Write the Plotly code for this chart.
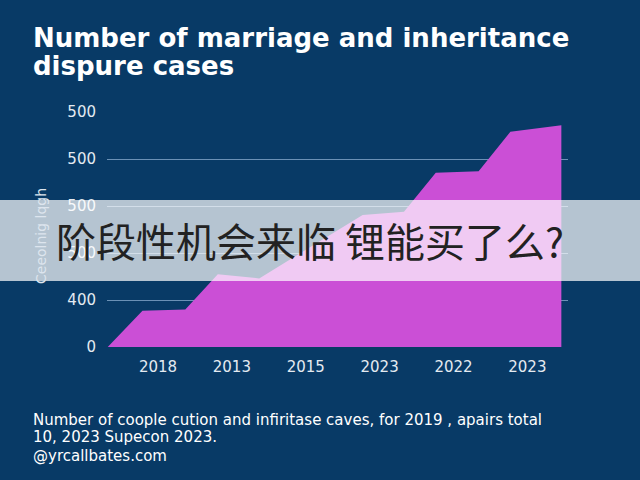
import plotly.graph_objects as go

# ---- data ----
x_pos = [-0.68, -0.21, 0.37, 0.81, 1.37, 2.77, 3.33, 3.76, 4.34, 4.77, 5.46]
cases = [0, 77, 80, 155, 146, 281, 288, 371, 374, 458, 472]
x_tickvals = [0, 1, 2, 3, 4, 5]
x_ticktext = ["2018", "2013", "2015", "2023", "2022", "2023"]
y_tickvals = [0, 100, 200, 300, 400, 500]
y_ticktext = ["0", "400", "500", "500", "500", "500"]

title_lines = ["Number of marriage and inheritance", "dispure cases"]
y_title = "Ceeolnig lqgh"
overlay_text = "阶段性机会来临 锂能买了么?"
caption_lines = ["Number of coople cution and infiritase caves, for 2019 , apairs total",
                 "10, 2023 Supecon 2023.",
                 "@yrcallbates.com"]

W, H = 640, 480
L, R, T, B = 107, 72, 112, 133
PW, PH = W - L - R, H - T - B

def px(x):
    return (x - L) / PW

def py(y):
    return (H - B - y) / PH

BG = "#083a66"
fig = go.Figure()
fig.add_trace(go.Scatter(
    x=x_pos + [x_pos[-1]], y=cases + [0],
    mode="lines", fill="tozeroy", fillcolor="#cb4fd6",
    line=dict(width=0, color="#cb4fd6"), hoverinfo="skip", showlegend=False,
))

fig.update_layout(
    width=W, height=H, paper_bgcolor=BG, plot_bgcolor=BG,
    margin=dict(l=L, r=R, t=T, b=B),
    xaxis=dict(range=[-0.69, 5.55], tickvals=x_tickvals, ticktext=x_ticktext,
               showgrid=False, zeroline=False, showline=False, ticks="",
               ticklabelstandoff=9,
               tickfont=dict(family="DejaVu Sans", size=15, color="#e4eaf1")),
    yaxis=dict(range=[0, 500], tickvals=y_tickvals, ticktext=y_ticktext,
               showgrid=True, gridcolor="rgba(140,175,210,0.75)", gridwidth=1,
               zeroline=False, showline=False, ticks="", ticklabelstandoff=10,
               tickfont=dict(family="DejaVu Sans", size=15, color="#e4eaf1")),
    font=dict(family="DejaVu Sans", color="white"),
)

ann = []
for line, yc in zip(title_lines, [38, 66]):
    ann.append(dict(text="<b>" + line + "</b>", x=px(31), y=py(yc), xanchor="left",
                    yanchor="middle", font=dict(family="DejaVu Sans", size=26, color="white")))
for line, yc in zip(caption_lines, [420, 437, 456]):
    ann.append(dict(text=line, x=px(31), y=py(yc), xanchor="left", yanchor="middle",
                    font=dict(family="DejaVu Sans", size=15, color="white")))
ann.append(dict(text=y_title, x=px(41), y=py(236), textangle=-90, xanchor="center",
                yanchor="middle", font=dict(family="DejaVu Sans", size=14, color="#dde5ee")))
ann.append(dict(text=overlay_text, x=px(54), y=py(240), xanchor="left", yanchor="middle",
                font=dict(family="Noto Sans CJK SC", size=40, color="#222222")))
for a in ann:
    a.update(xref="paper", yref="paper", showarrow=False)
    fig.add_annotation(**a)

fig.add_shape(type="rect", xref="paper", yref="paper", x0=px(0), x1=px(W),
              y0=py(281), y1=py(200), fillcolor="rgba(255,255,255,0.7)",
              line=dict(width=0), layer="above")

fig.write_html("out.html", config={"displayModeBar": False},
               post_script="document.body.style.margin='0';")
